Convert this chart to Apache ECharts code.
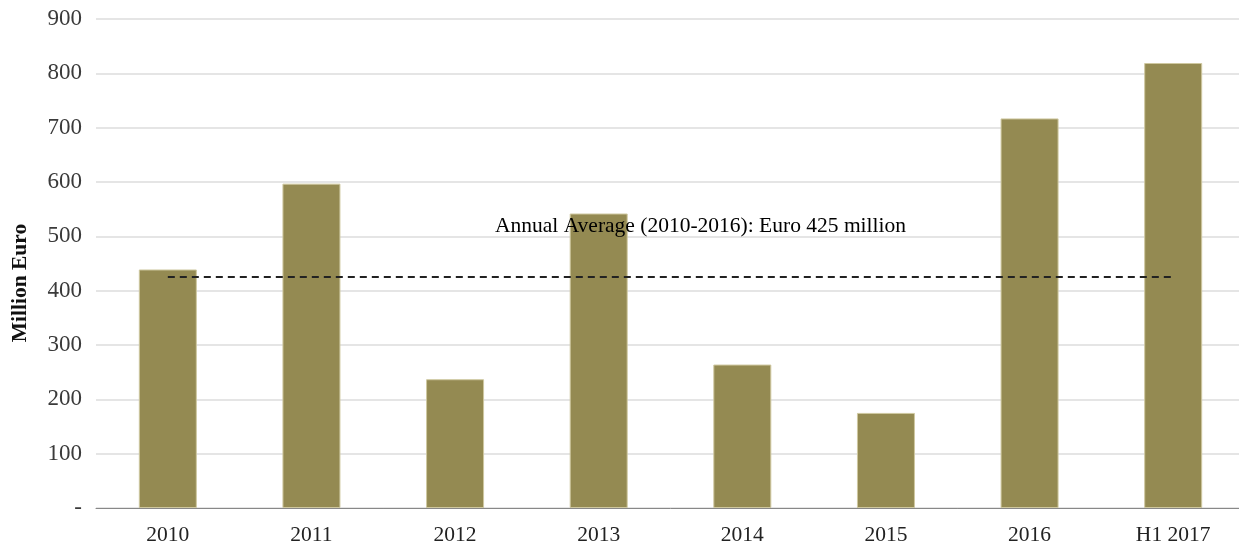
<!DOCTYPE html>
<html>
<head>
<meta charset="utf-8">
<script src="https://cdn.jsdelivr.net/npm/echarts@6/dist/echarts.min.js"></script>
<style>
html,body{margin:0;padding:0;background:#fff;overflow:hidden;}
#chart{width:1245px;height:546px;}
</style>
</head>
<body>
<div id="chart"></div>
<script>
const categories = ['2010','2011','2012','2013','2014','2015','2016','H1 2017'];
const values = [439, 597, 237, 542, 264, 175, 717, 819];
const averageValue = 425;
const averageLabel = 'Annual Average (2010-2016): Euro 425 million';
const yAxisTitle = 'Million Euro';

const chart = echarts.init(document.getElementById('chart'));
chart.setOption({
  backgroundColor: '#ffffff',
  animation: false,
  grid: {left: 96, right: 0, top: 19, bottom: 36.5},
  graphic: [{
    type: 'text',
    x: 20, y: 283,
    rotation: Math.PI / 2,
    style: {
      text: yAxisTitle,
      font: 'bold 21.5px "Liberation Serif"',
      fill: '#111',
      textAlign: 'center',
      textVerticalAlign: 'middle'
    }
  }],
  xAxis: {
    type: 'category',
    data: categories,
    axisLine: {lineStyle: {color: '#888888', width: 1}},
    axisTick: {show: false},
    axisLabel: {fontFamily: 'Liberation Serif', fontSize: 21.5, color: '#222', margin: 16}
  },
  yAxis: {
    type: 'value',
    min: 0, max: 900, interval: 100,
    axisLine: {show: false},
    axisTick: {show: false},
    splitLine: {lineStyle: {color: '#dddddd', width: 1.5}},
    axisLabel: {
      fontFamily: 'Liberation Serif', fontSize: 23, color: '#3a3a3a', margin: 14,
      formatter: v => v === 0 ? '-' : String(v)
    }
  },
  series: [{
    type: 'bar',
    data: values,
    barWidth: 58,
    itemStyle: {color: '#948a52', borderColor: '#cfc8a0', borderWidth: 1},
    markLine: {
      silent: true,
      symbol: ['none', 'none'],
      lineStyle: {color: '#222', type: [7, 5], width: 2},
      label: {
        show: true,
        position: 'middle',
        distance: 40,
        padding: [0, 0, 0, 60],
        formatter: averageLabel,
        fontFamily: 'Liberation Serif',
        fontSize: 21.5,
        color: '#000'
      },
      data: [[{coord: [categories[0], averageValue]}, {coord: [categories[categories.length - 1], averageValue]}]]
    }
  }]
});
</script>
</body>
</html>
